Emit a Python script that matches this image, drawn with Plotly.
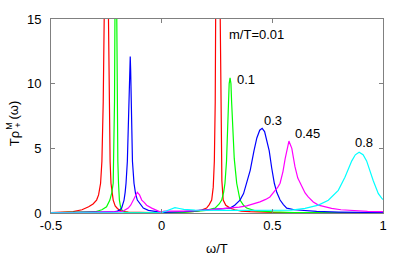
import plotly.graph_objects as go

# ---- data ----
omega_red = [-0.5,-0.45,-0.4,-0.36,-0.33,-0.31,-0.294,-0.285,-0.276,-0.27,-0.264,-0.259,-0.255,-0.249,-0.244,-0.241,-0.237,-0.233,-0.229,-0.224,-0.219,-0.21,-0.2,-0.188,-0.17,-0.15,-0.1,-0.05,0,0.05,0.1,0.15,0.18,0.203,0.215,0.226,0.233,0.238,0.242,0.247,0.251,0.257,0.261,0.264,0.267,0.272,0.278,0.29,0.309,0.33,0.36,0.4,0.5,0.7,1.0]
rho_red = [0.03,0.05,0.1,0.25,0.48,0.7,1.0,1.4,2.3,4.0,8.6,16,30,60,30,16,8.6,4.0,2.3,1.4,1.0,0.55,0.35,0.2,0.1,0.06,0.03,0.02,0.01,0.02,0.05,0.12,0.22,0.38,0.65,1.0,2.0,4.0,8.6,16,30,60,30,16,8.6,2.5,1.0,0.6,0.38,0.25,0.15,0.1,0.05,0.02,0.01]

omega_green = [-0.5,-0.4,-0.3,-0.27,-0.249,-0.234,-0.225,-0.219,-0.216,-0.213,-0.211,-0.207,-0.203,-0.201,-0.198,-0.195,-0.191,-0.186,-0.18,-0.17,-0.15,-0.1,0,0.1,0.2,0.241,0.26,0.271,0.28,0.286,0.293,0.298,0.301,0.305,0.309,0.313,0.316,0.321,0.328,0.339,0.354,0.37,0.384,0.42,0.5,0.6,0.8,1.0]
rho_green = [0.01,0.03,0.1,0.25,0.48,1.0,1.6,2.3,4.5,8.6,15.5,50,15.5,8.6,4.0,2.3,1.0,0.5,0.23,0.08,0.03,0.01,0.005,0.05,0.2,0.38,0.7,1.0,1.6,2.3,4.0,6.5,8.6,10.0,10.45,10.0,8.6,6.5,4.2,2.3,1.0,0.6,0.38,0.18,0.08,0.04,0.02,0.01]

omega_blue = [-0.5,-0.3,-0.22,-0.2,-0.19,-0.181,-0.17,-0.165,-0.161,-0.155,-0.146,-0.144,-0.142,-0.14,-0.138,-0.132,-0.125,-0.118,-0.11,-0.095,-0.083,-0.06,-0.03,0,0.1,0.2,0.25,0.309,0.33,0.354,0.37,0.384,0.4,0.417,0.43,0.443,0.454,0.465,0.475,0.486,0.497,0.509,0.52,0.535,0.55,0.565,0.6,0.7,0.8,0.9,1.0]
rho_blue = [0.005,0.02,0.08,0.15,0.23,0.38,1.0,1.6,2.3,4.0,8.6,11.0,12.1,11.0,8.6,4.0,2.3,1.5,1.0,0.6,0.38,0.2,0.1,0.05,0.1,0.22,0.3,0.38,0.6,1.0,1.5,2.3,3.3,4.8,5.8,6.4,6.55,6.3,5.6,4.8,3.5,2.3,1.6,1.0,0.65,0.38,0.25,0.12,0.07,0.05,0.03]

omega_magenta = [-0.5,-0.3,-0.2,-0.174,-0.151,-0.14,-0.128,-0.12,-0.11,-0.1,-0.09,-0.078,-0.068,-0.045,-0.015,0,0.01,0.1,0.2,0.309,0.35,0.384,0.42,0.444,0.47,0.489,0.51,0.525,0.535,0.548,0.558,0.565,0.57,0.575,0.581,0.588,0.595,0.602,0.615,0.633,0.648,0.662,0.685,0.708,0.74,0.768,0.81,0.859,0.93,1.0]
rho_magenta = [0.005,0.03,0.08,0.15,0.38,0.6,1.0,1.35,1.6,1.4,1.0,0.8,0.6,0.38,0.15,0.03,0.15,0.15,0.23,0.36,0.45,0.55,0.72,0.86,1.05,1.24,1.7,2.0,2.3,3.2,4.2,4.8,5.3,5.56,5.3,5.0,4.3,3.6,2.7,2.0,1.55,1.24,0.85,0.61,0.45,0.36,0.25,0.18,0.13,0.1]

omega_cyan = [-0.5,-0.3,-0.1,-0.02,0,0.02,0.04,0.06,0.08,0.1,0.15,0.2,0.3,0.4,0.5,0.587,0.648,0.708,0.753,0.798,0.828,0.859,0.875,0.892,0.91,0.926,0.956,0.979,0.994,1.0]
rho_cyan = [0.02,0.03,0.04,0.05,0.03,0.15,0.3,0.42,0.35,0.28,0.22,0.2,0.2,0.21,0.22,0.23,0.36,0.61,0.99,1.75,2.76,4.03,4.5,4.7,4.5,4.03,2.5,1.5,1.15,1.04]

series = [
    (omega_red, rho_red, "#ff0000", "0.01"),
    (omega_green, rho_green, "#00ff00", "0.1"),
    (omega_blue, rho_blue, "#0000ff", "0.3"),
    (omega_magenta, rho_magenta, "#ff00ff", "0.45"),
    (omega_cyan, rho_cyan, "#00ffff", "0.8"),
]

# curve labels: (text, omega, rho)
labels = [
    ("m/T=0.01", 0.294, 13.78),
    ("0.1", 0.331, 10.36),
    ("0.3", 0.452, 7.16),
    ("0.45", 0.592, 6.11),
    ("0.8", 0.863, 5.48),
]

x_ticks = [-0.5, 0, 0.5, 1]
x_ticklabels = ["-0.5", "0", "0.5", "1"]
y_ticks = [0, 5, 10, 15]
y_ticklabels = ["0", "5", "10", "15"]

for xs, ys, _, _ in series:
    assert len(xs) == len(ys)

FONT = "Liberation Sans, Arial, sans-serif"
fig = go.Figure()
for xs, ys, col, name in series:
    fig.add_trace(go.Scatter(x=xs, y=ys, mode="lines", name=name,
                             line=dict(color=col, width=1.2), showlegend=False))

for txt, xv, yv in labels:
    fig.add_annotation(x=xv, y=yv, xref="x", yref="y", text=txt, showarrow=False,
                       xanchor="left", yanchor="middle", font=dict(size=13, color="black"))

# x axis title
fig.add_annotation(xref="paper", yref="paper", x=0.5, y=0, yshift=-35, text="ω/T",
                   showarrow=False, xanchor="center", yanchor="middle",
                   font=dict(size=13, color="black"))
# y axis title pieces (rotated)
def ypaper(p):
    return (213 - p) / 197.0

for txt, px, py, fs in [("Tρ", 14, 138, 13), ("+", 18, 124.5, 9), ("M", 9, 124.5, 9), ("(ω)", 14, 109, 13)]:
    fig.add_annotation(xref="paper", yref="paper", x=0, xshift=px - 51, y=ypaper(py),
                       text=txt, textangle=-90, showarrow=False, xanchor="center",
                       yanchor="middle", font=dict(size=fs, color="black"))

axis_common = dict(showline=True, mirror="ticks", linecolor="#808080", linewidth=1,
                   ticks="inside", ticklen=4, tickcolor="#808080", showgrid=False,
                   zeroline=False, tickfont=dict(size=13, color="black"))
fig.update_xaxes(range=[-0.5, 1], tickvals=x_ticks, ticktext=x_ticklabels, **axis_common)
fig.update_yaxes(range=[0, 15], tickvals=y_ticks, ticktext=y_ticklabels,
                 ticklabelstandoff=6, **axis_common)

fig.update_layout(width=407, height=256, margin=dict(l=51, r=24, t=16, b=43),
                  plot_bgcolor="white", paper_bgcolor="white",
                  font=dict(family=FONT, size=13, color="black"))
fig.write_html("out.html", config={"displayModeBar": False},
               post_script="document.body.style.margin='0';document.body.style.overflow='hidden';")
